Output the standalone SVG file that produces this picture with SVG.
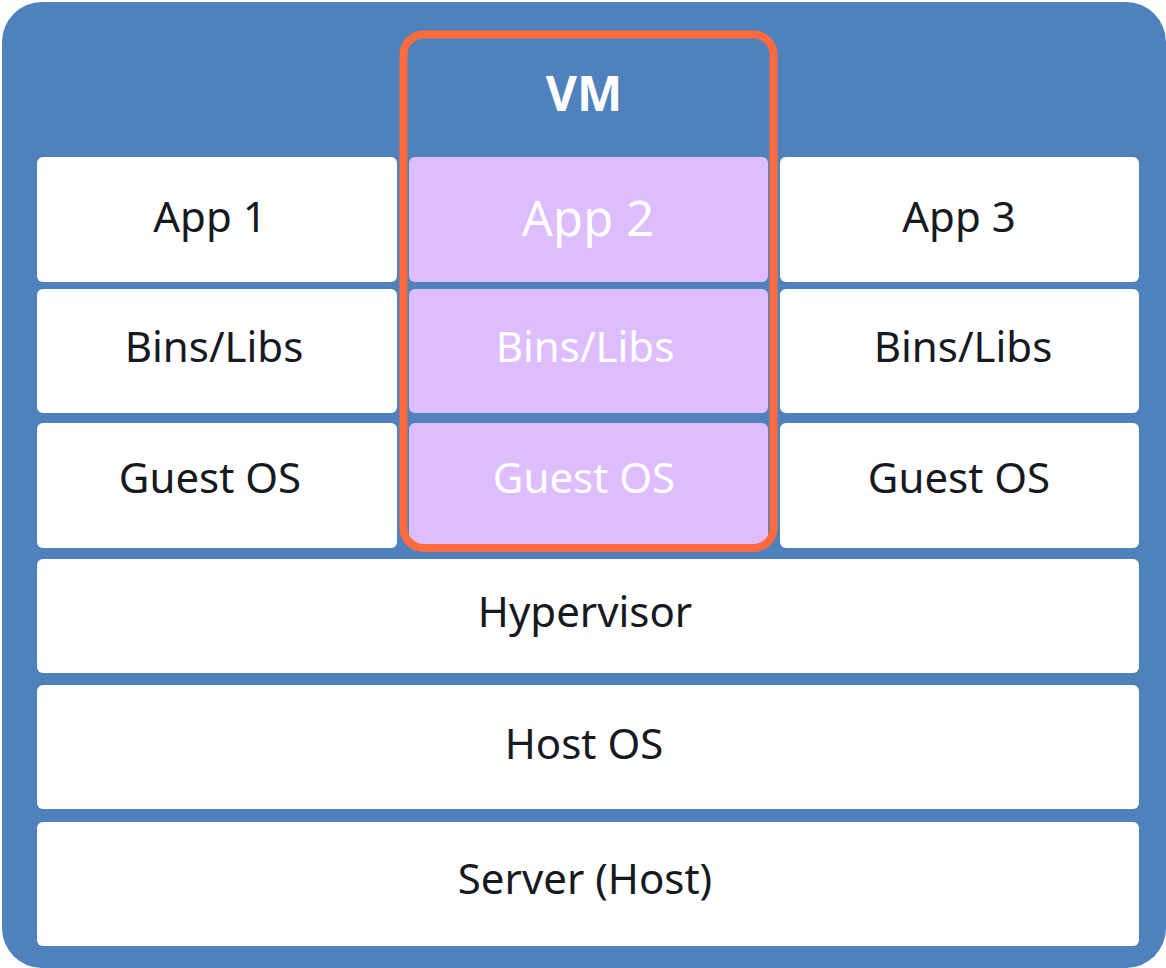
<svg xmlns="http://www.w3.org/2000/svg" width="1166" height="968" viewBox="0 0 1166 968">
  <style>
    .box { fill: #FFFFFF; }
    .vmbox { fill: #DDBDFD; }
    .lbl { font-family: "Noto Sans", "Open Sans", sans-serif; font-size: 42px; fill: #16191F; text-anchor: middle; }
    .vmlbl { font-family: "Noto Sans", "Open Sans", sans-serif; font-size: 42px; fill: #FFFFFF; text-anchor: middle; }
  </style>
  <!-- host frame -->
  <rect id="frame" x="2" y="2" width="1164" height="966" rx="40" fill="#4F81BC"/>

  <!-- left stack -->
  <g id="app1"><rect class="box" x="37" y="157" width="360" height="125" rx="6"/><text class="lbl" x="210" y="232">App 1</text></g>
  <g id="bins1"><rect class="box" x="37" y="289" width="360" height="124" rx="6"/><text class="lbl" x="214" y="362">Bins/Libs</text></g>
  <g id="guest1"><rect class="box" x="37" y="423" width="360" height="125" rx="6"/><text class="lbl" x="210" y="493">Guest OS</text></g>

  <!-- VM stack -->
  <g id="vm">
    <g id="app2"><rect class="vmbox" x="409" y="157" width="359" height="125" rx="6"/><text class="vmlbl" x="588" y="236" style="font-size:49px">App 2</text></g>
    <g id="bins2"><rect class="vmbox" x="409" y="289" width="359" height="124" rx="6"/><text class="vmlbl" x="585" y="362">Bins/Libs</text></g>
    <g id="guest2"><rect class="vmbox" x="409" y="423" width="359" height="124" rx="6"/><text class="vmlbl" x="584" y="493">Guest OS</text></g>
    <rect x="403.5" y="34.5" width="370" height="513.5" rx="20" fill="none" stroke="#FF6B3D" stroke-width="8"/>
    <text x="584" y="111" style="font-family:'Noto Sans','Open Sans',sans-serif;font-size:48px;font-weight:bold;fill:#FFFFFF;text-anchor:middle">VM</text>
  </g>

  <!-- right stack -->
  <g id="app3"><rect class="box" x="780" y="157" width="359" height="125" rx="6"/><text class="lbl" x="959" y="232">App 3</text></g>
  <g id="bins3"><rect class="box" x="780" y="289" width="359" height="124" rx="6"/><text class="lbl" x="963" y="362">Bins/Libs</text></g>
  <g id="guest3"><rect class="box" x="780" y="423" width="359" height="125" rx="6"/><text class="lbl" x="959" y="493">Guest OS</text></g>

  <!-- shared layers -->
  <g id="hypervisor"><rect class="box" x="37" y="559" width="1102" height="114" rx="6"/><text class="lbl" x="585" y="627">Hypervisor</text></g>
  <g id="hostos"><rect class="box" x="37" y="685" width="1102" height="124" rx="6"/><text class="lbl" x="584" y="759">Host OS</text></g>
  <g id="server"><rect class="box" x="37" y="822" width="1102" height="124" rx="6"/><text class="lbl" x="585" y="894">Server (Host)</text></g>

  <!-- no connectors in this layered diagram -->
  <g id="connectors"/>
</svg>
